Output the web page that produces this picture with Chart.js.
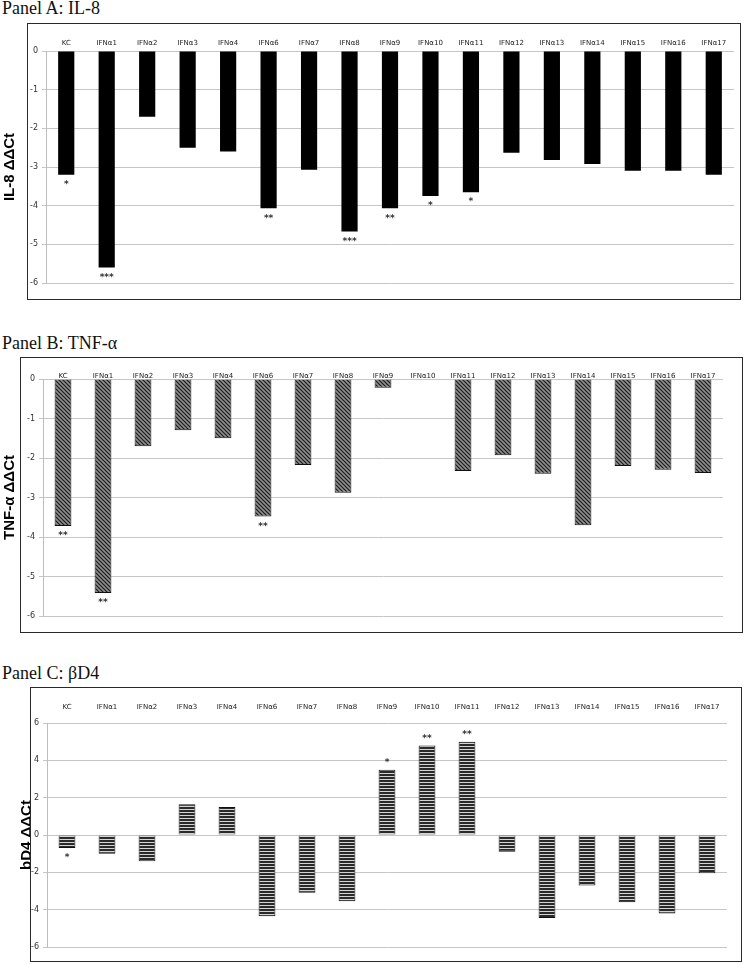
<!DOCTYPE html>
<html>
<head>
<meta charset="utf-8">
<script src="https://cdn.jsdelivr.net/npm/chart.js@4.4.1/dist/chart.umd.min.js"></script>
<style>
body{margin:0;background:#fff;width:747px;height:964px;position:relative;overflow:hidden}
.ttl{position:absolute;left:2px;font-family:"Liberation Serif","Times New Roman",serif;font-size:18px;line-height:18px;color:#111;white-space:nowrap}
.box{position:absolute;border:1.5px solid #2a2a2a;box-sizing:border-box;pointer-events:none}
canvas{position:absolute;left:0}
</style>
</head>
<body>
<div class="ttl" style="top:-1px">Panel A: IL-8</div>
<div class="ttl" style="top:334px">Panel B: TNF-α</div>
<div class="ttl" style="top:664px">Panel C: βD4</div>

<canvas id="chartA" width="747" height="278" style="top:22px"></canvas>
<canvas id="chartB" width="747" height="276" style="top:357px"></canvas>
<canvas id="chartC" width="747" height="275" style="top:687px"></canvas>

<div class="box" style="left:27px;top:23px;width:714px;height:277px"></div>
<div class="box" style="left:20px;top:357px;width:723px;height:276px"></div>
<div class="box" style="left:30px;top:687px;width:712px;height:275px"></div>

<script>
var categorias = ['KC','IFNα1','IFNα2','IFNα3','IFNα4','IFNα6','IFNα7','IFNα8','IFNα9','IFNα10','IFNα11','IFNα12','IFNα13','IFNα14','IFNα15','IFNα16','IFNα17'];

// Panel A: IL-8
var il8 = [-3.2,-5.6,-1.7,-2.5,-2.6,-4.07,-3.07,-4.67,-4.07,-3.75,-3.65,-2.63,-2.82,-2.92,-3.1,-3.1,-3.2];
var estrellasA = ['*','***','','','','**','','***','**','*','*','','','','','',''];

// Panel B: TNF-a
var tnf = [-3.72,-5.42,-1.7,-1.3,-1.5,-3.48,-2.18,-2.88,-0.22,0,-2.33,-1.93,-2.4,-3.7,-2.2,-2.3,-2.38];
var estrellasB = ['**','**','','','','**','','','','','','','','','','',''];

// Panel C: bD4
var bd4 = [-0.7,-1.0,-1.4,1.65,1.5,-4.35,-3.1,-3.55,3.5,4.8,5.0,-0.9,-4.45,-2.7,-3.6,-4.2,-2.05];
var estrellasC = ['*','','','','','','','','*','**','**','','','','','',''];

var rangoA = [-6, 0, 1];
var rangoB = [-6, 0, 1];
var rangoC = [-6, 6, 2];

function patronDiagonal(){
  var c = document.createElement('canvas');
  c.width = 4; c.height = 4;
  var g = c.getContext('2d');
  g.fillStyle = '#8e8e8e';
  g.fillRect(0,0,4,4);
  g.strokeStyle = '#1a1a1a';
  g.lineWidth = 1.2;
  g.beginPath();
  g.moveTo(-1,-1); g.lineTo(5,5);
  g.moveTo(-1,3); g.lineTo(1,5);
  g.moveTo(3,-1); g.lineTo(5,1);
  g.stroke();
  return g.createPattern(c,'repeat');
}

function patronRayas(){
  var c = document.createElement('canvas');
  c.width = 4; c.height = 3;
  var g = c.getContext('2d');
  g.fillStyle = '#2a2a2a';
  g.fillRect(0,0,4,3);
  g.fillStyle = '#d4d4d4';
  g.fillRect(0,2,4,1);
  return g.createPattern(c,'repeat');
}

var pluginEstrellas = {
  id: 'estrellas',
  afterDatasetsDraw: function(chart, args, opts){
    var ctx = chart.ctx;
    var meta = chart.getDatasetMeta(0);
    var y = chart.scales.y;
    var valores = chart.data.datasets[0].data;
    ctx.save();
    ctx.font = 'bold 9px "DejaVu Sans"';
    ctx.fillStyle = '#333';
    ctx.textAlign = 'center';
    ctx.textBaseline = 'middle';
    for (var i = 0; i < opts.marcas.length; i++) {
      if (!opts.marcas[i]) continue;
      var v = valores[i];
      var py = y.getPixelForValue(v);
      var yy = v < 0 ? py + 10 : py - 7;
      ctx.fillText(opts.marcas[i], meta.data[i].x, yy);
    }
    ctx.restore();
  }
};

function graficaPanel(id, valores, estrellas, rango, cfg){
  var graficar = document.getElementById(id);
  return new Chart(graficar, {
    type: 'bar',
    data: {
      labels: categorias,
      datasets: [{
        data: valores,
        backgroundColor: cfg.fondo,
        borderColor: '#111',
        borderWidth: cfg.borde,
        barPercentage: cfg.barra,
        categoryPercentage: 1.0
      }]
    },
    plugins: [pluginEstrellas],
    options: {
      responsive: false,
      devicePixelRatio: 1,
      animation: false,
      layout: { padding: { left: 0, right: cfg.der, top: 0, bottom: cfg.abajo } },
      plugins: {
        legend: { display: false },
        tooltip: { enabled: false },
        estrellas: { marcas: estrellas }
      },
      scales: {
        x: {
          position: 'top',
          grid: { display: false, drawTicks: false, tickLength: 0 },
          border: { display: false },
          ticks: { autoSkip: false, maxRotation: 0, minRotation: 0, padding: cfg.padX,
                   color: '#222', font: { family: 'DejaVu Sans', size: 7 } },
          afterFit: function(s){ s.height = cfg.arriba; }
        },
        y: {
          min: rango[0], max: rango[1],
          ticks: { stepSize: rango[2], padding: 4, color: '#333',
                   font: { family: 'DejaVu Sans', size: 8 } },
          grid: { color: '#c6c6c6', tickLength: 4, drawTicks: true },
          border: { display: true, color: '#bdbdbd' },
          title: { display: true, text: cfg.titulo, color: '#000',
                   font: { family: 'Liberation Sans', size: 15, weight: 'bold' },
                   padding: { top: cfg.padTitulo, bottom: 0 } },
          afterFit: function(s){ s.width = cfg.izq; }
        }
      }
    }
  });
}

graficaPanel('chartA', il8, estrellasA, rangoA, {
  fondo: '#000', borde: 0, barra: 0.4, titulo: 'IL-8 ΔΔCt',
  izq: 46, der: 13, arriba: 29, abajo: 17, padX: 3.5, padTitulo: 1
});

graficaPanel('chartB', tnf, estrellasB, rangoB, {
  fondo: patronDiagonal(), borde: 1, barra: 0.42, titulo: 'TNF-α ΔΔCt',
  izq: 43, der: 24, arriba: 22, abajo: 17, padX: -1, padTitulo: 1
});

graficaPanel('chartC', bd4, estrellasC, rangoC, {
  fondo: patronRayas(), borde: 1, barra: 0.42, titulo: 'bD4 ΔΔCt',
  izq: 47, der: 20, arriba: 36, abajo: 15, padX: 12, padTitulo: 18
});
</script>
</body>
</html>
